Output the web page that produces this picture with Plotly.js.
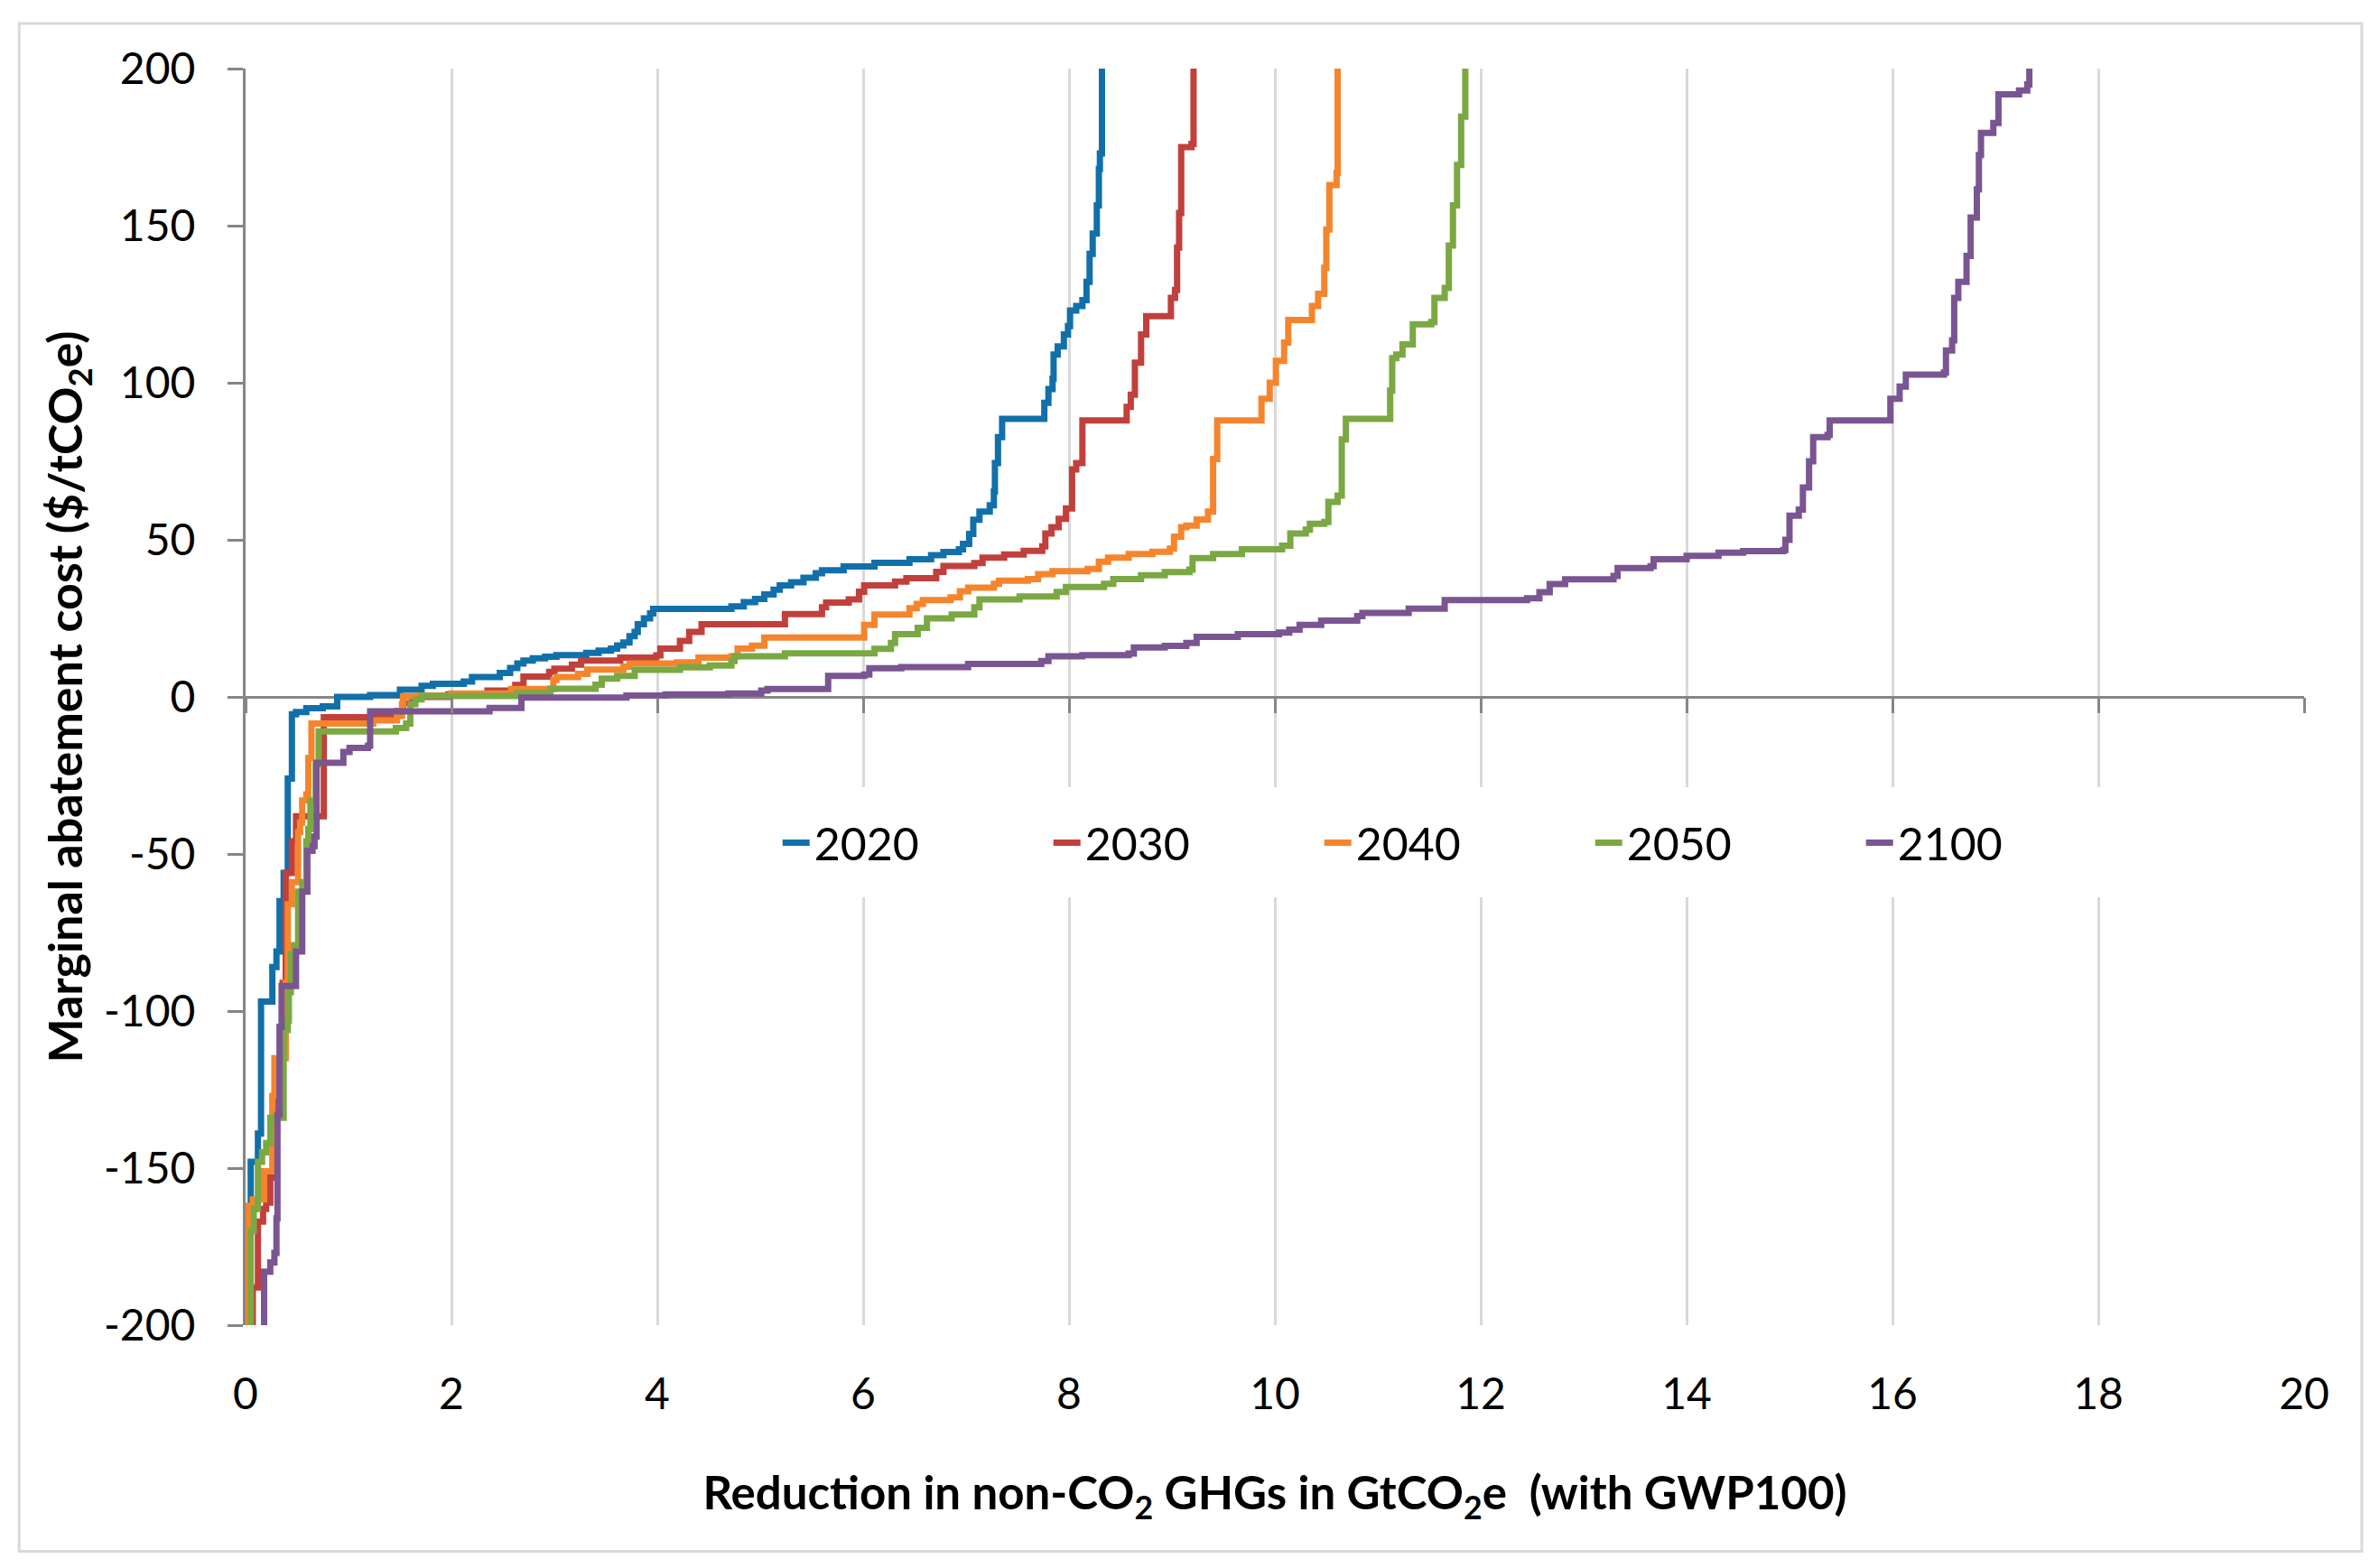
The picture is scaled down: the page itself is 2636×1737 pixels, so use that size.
<!DOCTYPE html>
<html>
<head>
<meta charset="utf-8">
<script src="https://cdn.plot.ly/plotly-3.0.1.min.js"></script>
<style>html,body{margin:0;padding:0;background:#fff;}#chart{width:2636px;height:1737px;}</style>
</head>
<body>
<div id="chart"></div>
<script>
// Each point [x, y]: at reduction x (GtCO2e) the marginal cost steps up to y ($/tCO2e)
const seriesNames = ['2020', '2030', '2040', '2050', '2100'];

const s2020 = [[0.01,-200],[0.01,-168],[0.05,-148],[0.12,-139],[0.15,-97],[0.26,-86],[0.30,-81],[0.33,-65],[0.37,-56],[0.41,-26],[0.45,-5.5],[0.49,-4.8],[0.59,-3.6],[0.75,-3.0],[0.89,0],[1.21,0.6],[1.50,2.3],[1.71,3.5],[1.82,4.2],[2.12,4.9],[2.20,6.3],[2.47,7.6],[2.57,9.2],[2.64,10.6],[2.70,11.6],[2.79,12.3],[2.91,12.8],[3.02,13.3],[3.31,14.0],[3.43,14.7],[3.55,15.4],[3.61,16.4],[3.67,17.3],[3.73,19.3],[3.78,20.7],[3.81,23.1],[3.87,25.0],[3.93,26.6],[3.96,28.0],[4.72,28.8],[4.84,30.2],[4.95,31.2],[5.04,32.6],[5.13,34.1],[5.19,35.5],[5.30,36.5],[5.42,37.9],[5.54,39.4],[5.60,40.3],[5.81,41.5],[6.11,42.7],[6.45,43.8],[6.66,45.1],[6.78,46.1],[6.93,47.0],[6.97,48.7],[7.03,51.9],[7.07,56.4],[7.13,59],[7.23,61],[7.27,65.4],[7.28,74.4],[7.31,82.7],[7.35,88.5],[7.76,93.6],[7.80,98],[7.84,101.3],[7.85,109],[7.89,111.6],[7.95,115.4],[7.99,118],[8.01,123],[8.07,124.4],[8.13,126.3],[8.17,132.1],[8.20,141],[8.23,147.5],[8.27,156.5],[8.29,168],[8.30,173],[8.32,205]];

const s2030 = [[0.07,-200],[0.07,-188],[0.12,-167],[0.17,-163],[0.20,-161],[0.24,-153],[0.27,-132],[0.30,-124],[0.36,-91],[0.39,-56],[0.45,-46],[0.49,-38],[0.76,-6.5],[1.47,-4.5],[1.53,-2],[1.62,0],[1.97,0.8],[2.35,2.0],[2.62,3.8],[2.70,6.5],[2.95,8],[3.00,9],[3.17,10.3],[3.26,11.6],[3.64,12.5],[3.99,13.2],[4.03,15.4],[4.22,17.8],[4.31,20.7],[4.43,23.1],[5.24,26.4],[5.60,28.5],[5.64,30],[5.86,31],[5.96,33.5],[6.01,35.5],[6.31,36.7],[6.42,37.8],[6.71,39.8],[6.78,41.7],[7.08,42.6],[7.16,44.3],[7.37,45.3],[7.56,46.5],[7.74,47.9],[7.77,52],[7.83,54],[7.90,56.7],[7.97,60],[8.03,72.4],[8.07,74.4],[8.13,88],[8.56,92.3],[8.60,96.2],[8.64,106.4],[8.70,115.4],[8.75,121.2],[8.99,127],[9.03,129.5],[9.05,143],[9.07,154],[9.09,175],[9.19,176],[9.21,205]];

const s2040 = [[0.03,-200],[0.03,-162],[0.07,-160],[0.18,-151],[0.26,-127],[0.28,-115],[0.39,-91],[0.41,-66],[0.45,-59],[0.51,-43],[0.53,-40],[0.55,-33],[0.59,-31],[0.61,-19.5],[0.64,-8.5],[1.24,-7.5],[1.47,-6],[1.52,-2.3],[1.53,0.2],[1.68,0.4],[2.00,1.1],[2.58,2.5],[2.99,5.4],[3.02,6.3],[3.23,7.3],[3.32,8.7],[3.67,9.6],[3.73,10.6],[4.19,11],[4.40,12.5],[4.72,12.9],[4.78,15.4],[4.92,16.3],[5.04,18.9],[6.01,22.9],[6.11,26.2],[6.45,28.2],[6.52,29.6],[6.58,30.8],[6.85,31.7],[6.94,33.6],[7.02,34.8],[7.27,36],[7.32,37],[7.60,37.5],[7.70,39.1],[7.84,40],[8.18,40.7],[8.29,43],[8.38,44.3],[8.58,45.5],[8.81,46.2],[8.98,47.2],[9.02,51],[9.09,54],[9.14,54.5],[9.24,56.5],[9.35,59],[9.40,75.7],[9.44,88],[9.87,94.9],[9.95,100],[10.01,107],[10.09,112.8],[10.13,120],[10.36,124.4],[10.42,128.3],[10.48,136.6],[10.50,148.8],[10.53,162.9],[10.60,166.8],[10.61,205]];

const s2050 = [[0.04,-200],[0.05,-170],[0.08,-163],[0.12,-148],[0.16,-145],[0.20,-142],[0.24,-134],[0.37,-106],[0.41,-103],[0.42,-94],[0.44,-82],[0.47,-79],[0.51,-62],[0.55,-59],[0.59,-46],[0.61,-42],[0.63,-33],[0.68,-21.5],[0.71,-11],[1.46,-9.9],[1.56,-8.5],[1.60,-2.3],[1.65,-0.8],[1.71,0.3],[2.64,1.2],[2.96,2.6],[3.40,3.9],[3.46,5.8],[3.61,6.7],[3.78,8.6],[4.22,9.4],[4.51,10],[4.72,11.4],[4.75,12.9],[5.24,13.9],[6.11,15.3],[6.27,17.2],[6.31,20],[6.53,22],[6.62,25],[6.86,26.2],[7.08,28.5],[7.13,31],[7.52,32],[7.88,33.4],[7.97,35],[8.34,36],[8.43,37.5],[8.70,38.7],[8.93,39.7],[9.17,40.5],[9.20,44.2],[9.40,45.5],[9.68,47],[10.07,48.1],[10.15,52],[10.30,53.2],[10.34,55.1],[10.48,55.7],[10.52,62.1],[10.61,64.1],[10.65,82],[10.69,88.5],[11.12,97.5],[11.14,107.8],[11.18,109],[11.24,112.2],[11.34,118.6],[11.52,119.3],[11.55,127],[11.65,130.2],[11.69,143.7],[11.73,156.5],[11.77,169.3],[11.81,184.7],[11.85,205]];

const s2100 = [[0.18,-200],[0.18,-183],[0.24,-180],[0.28,-177],[0.30,-166],[0.31,-133],[0.33,-105],[0.35,-92],[0.49,-81],[0.55,-62],[0.60,-49],[0.65,-47.5],[0.67,-44.5],[0.69,-21],[0.95,-17.5],[1.01,-16.2],[1.19,-15.5],[1.21,-4.6],[2.37,-3.5],[2.68,-0.2],[3.70,0.4],[4.08,0.8],[4.69,1.1],[5.01,2.0],[5.07,2.5],[5.66,6.7],[6.01,7.1],[6.06,9.1],[6.37,9.5],[7.02,10.5],[7.73,11.4],[7.80,12.9],[8.13,13.3],[8.58,13.8],[8.63,15.7],[8.93,16.2],[9.14,17.2],[9.24,19.1],[9.64,20],[10.04,20.5],[10.14,21.4],[10.24,22.9],[10.45,24.3],[10.80,25.7],[10.85,26.7],[11.30,28.1],[11.65,30.8],[12.45,31.4],[12.57,33.3],[12.67,35.9],[12.82,37.4],[13.29,38.5],[13.33,41],[13.65,41.6],[13.68,43.8],[14.00,44.9],[14.31,45.9],[14.55,46.4],[14.94,46.8],[14.96,50],[15.00,57.7],[15.09,59.6],[15.13,66.7],[15.19,75],[15.23,82.7],[15.37,83.4],[15.39,88],[15.98,94.9],[16.07,98.8],[16.13,102.6],[16.50,103.2],[16.52,110.3],[16.58,113.5],[16.60,127],[16.64,132.1],[16.72,140.4],[16.76,152.6],[16.82,161.6],[16.84,172.5],[16.86,179.5],[16.98,182.7],[17.03,191.8],[17.23,193],[17.31,195],[17.33,205]];

const xTickVals = [0,2,4,6,8,10,12,14,16,18,20];
const yTickVals = [-200,-150,-100,-50,0,50,100,150,200];
const yTickText = ['-200','-150','-100','-50','0','50','100','150','200'];

const seriesData = [s2020, s2030, s2040, s2050, s2100];
const colors = ['#1170AA', '#C1403C', '#F5852D', '#7AA843', '#7A5592'];

const FONT = 'Lato, "Open Sans", "DejaVu Sans", sans-serif';
const AXIS_GRAY = '#868686';
const GRID_GRAY = '#d9d9d9';

const traces = seriesData.map((s, i) => ({
  type: 'scatter',
  mode: 'lines',
  name: seriesNames[i],
  x: s.map(p => p[0]),
  y: s.map(p => p[1]),
  line: {color: colors[i], width: 7, shape: 'hv'},
  hoverinfo: 'skip'
}));

// empty trace on an overlay axis that carries the tick marks along the zero line
traces.push({type: 'scatter', mode: 'lines', x: [], y: [], xaxis: 'x2', showlegend: false, hoverinfo: 'skip'});

const layout = {
  width: 2636,
  height: 1737,
  margin: {l: 272, r: 84, t: 76, b: 269, pad: 0},
  paper_bgcolor: '#ffffff',
  plot_bgcolor: '#ffffff',
  font: {family: FONT, size: 48, color: '#000000'},
  showlegend: true,
  legend: {
    orientation: 'h',
    x: 0.249, xanchor: 'left',
    y: 0.384, yanchor: 'middle',
    bgcolor: '#ffffff',
    bordercolor: '#ffffff',
    borderwidth: 22,
    font: {family: FONT, size: 50, color: '#000000'},
    entrywidth: 255,
    entrywidthmode: 'pixels'
  },
  xaxis: {
    range: [0, 20],
    tickvals: xTickVals,
    ticks: '',
    showline: false,
    zeroline: false,
    showgrid: true,
    gridcolor: GRID_GRAY,
    gridwidth: 3,
    tickfont: {family: FONT, size: 48, color: '#000000'},
    ticklabelstandoff: 44,
    title: {
      text: '<b>Reduction in non-CO<sub>2</sub> GHGs in GtCO<sub>2</sub>e  (with GWP100)</b>',
      font: {family: FONT, size: 51, color: '#000000'},
      standoff: 66
    },
    fixedrange: true
  },
  xaxis2: {
    overlaying: 'x',
    matches: 'x',
    anchor: 'free',
    position: 0.5,
    range: [0, 20],
    tickvals: xTickVals,
    ticks: 'outside',
    ticklen: 17,
    tickwidth: 3,
    tickcolor: AXIS_GRAY,
    showticklabels: false,
    showline: false,
    showgrid: false,
    zeroline: false
  },
  yaxis: {
    range: [-200, 200],
    tickvals: yTickVals,
    ticktext: yTickText,
    ticks: 'outside',
    ticklen: 17,
    tickwidth: 3,
    tickcolor: AXIS_GRAY,
    showline: true,
    linecolor: AXIS_GRAY,
    linewidth: 3,
    showgrid: false,
    zeroline: true,
    zerolinecolor: AXIS_GRAY,
    zerolinewidth: 3,
    tickfont: {family: FONT, size: 48, color: '#000000'},
    ticklabelstandoff: 26,
    title: {
      text: '<b>Marginal abatement cost ($/tCO<sub>2</sub>e)</b>',
      font: {family: FONT, size: 52, color: '#000000'},
      standoff: 7
    },
    fixedrange: true
  },
  shapes: [{
    type: 'rect', xref: 'paper', yref: 'paper',
    x0: -0.110, x1: 1.028, y0: -0.180, y1: 1.036,
    line: {color: GRID_GRAY, width: 3},
    fillcolor: 'rgba(0,0,0,0)',
    layer: 'below'
  }]
};

Plotly.newPlot('chart', traces, layout, {displayModeBar: false, staticPlot: true});
</script>
</body>
</html>
